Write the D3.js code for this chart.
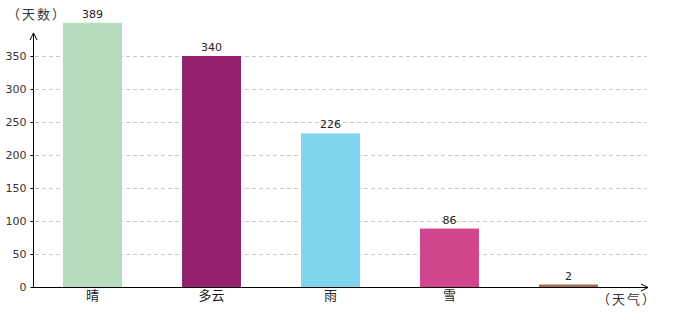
<!DOCTYPE html>
<html>
<head>
<meta charset="utf-8">
<script src="https://cdn.jsdelivr.net/npm/d3@7/dist/d3.min.js"></script>
<style>
  html, body { margin: 0; padding: 0; background: #fff; }
  text { font-family: "DejaVu Sans", "Noto Sans CJK SC", sans-serif; }
</style>
</head>
<body>
<div id="chart"></div>
<script>
// ── Data ───────────────────────────────────────────────────
const categories = ["晴", "多云", "雨", "雪", ""];
const values     = [389, 340, 226, 86, 2];
const colours    = ["#b6dcbe", "#94226c", "#7dd5ed", "#d2458f", "#a86a4f"];
const yTicks     = [0, 50, 100, 150, 200, 250, 300, 350];

const W = 680, H = 320;
const X0 = 33, Y0 = 287;        // axis origin
const XEND = 648, YTOP = 33;    // arrow tips
const SLOT = 119, BAR_W = 59, FIRST_BAR = 63;

const svg = d3.select("#chart").append("svg").attr("width", W).attr("height", H);

// axis scale (ticks) and bar scale (bars are stretched so the max reaches the top)
const y    = d3.scaleLinear().domain([0, 350]).range([Y0, 56]);
const yBar = d3.scaleLinear().domain([0, d3.max(values)]).range([Y0, 22.7]);
const x    = d3.scaleBand().domain(d3.range(values.length))
  .range([FIRST_BAR - (SLOT - BAR_W) / 2, FIRST_BAR - (SLOT - BAR_W) / 2 + SLOT * values.length])
  .paddingInner((SLOT - BAR_W) / SLOT).paddingOuter((SLOT - BAR_W) / SLOT / 2);

// Grid
svg.append("g")
  .selectAll("line").data(yTicks.slice(1)).join("line")
  .attr("x1", X0 + 2).attr("x2", XEND - 1)
  .attr("y1", d => Math.round(y(d)) + 0.5).attr("y2", d => Math.round(y(d)) + 0.5)
  .attr("stroke", "#c8c8c8").attr("stroke-dasharray", "4,3");

// Bars (min 2px so the tiny one still shows)
svg.append("g")
  .selectAll("rect").data(values).join("rect")
  .attr("x", (d, i) => x(i) + 0.5)
  .attr("width", x.bandwidth() - 1)
  .attr("y", d => Math.min(yBar(d), Y0 - 2.5) + 0.5)
  .attr("height", d => Y0 - Math.min(yBar(d), Y0 - 2.5) - 1)
  .attr("fill", (d, i) => colours[i])
  .attr("stroke", (d, i) => colours[i]).attr("stroke-width", 1);

// Value labels
svg.append("g")
  .selectAll("text").data(values).join("text")
  .attr("x", (d, i) => x(i) + x.bandwidth() / 2)
  .attr("y", d => Math.min(yBar(d), Y0 - 2.5) - 5)
  .attr("text-anchor", "middle").attr("font-size", 11).attr("fill", "#222")
  .text(d => d);

// Y axis
svg.append("g").attr("transform", `translate(${X0 + 0.5},0)`)
  .call(d3.axisLeft(y).tickValues(yTicks).tickSize(3).tickPadding(4))
  .call(ax => ax.select(".domain").remove())
  .call(ax => ax.selectAll("line").attr("stroke", "#000"))
  .call(ax => ax.selectAll("text").attr("fill", "#333").attr("font-size", 11)
    .attr("font-family", "DejaVu Sans, sans-serif"));

// X axis categories
svg.append("g").attr("transform", `translate(0,${Y0})`)
  .call(d3.axisBottom(x).tickFormat(i => categories[i]).tickSize(0).tickPadding(4))
  .call(ax => ax.select(".domain").remove())
  .call(ax => ax.selectAll("text").attr("fill", "#222").attr("font-size", 13)
    .attr("font-family", "Noto Sans CJK SC, sans-serif"));

// Axis lines with arrows
svg.append("line").attr("x1", X0 + 0.5).attr("x2", X0 + 0.5).attr("y1", Y0 + 1).attr("y2", YTOP)
  .attr("stroke", "#000").attr("stroke-width", 1);
svg.append("path").attr("d", `M${X0 - 3},${YTOP + 7} L${X0 + 0.5},${YTOP} L${X0 + 4},${YTOP + 7}`)
  .attr("fill", "none").attr("stroke", "#000");
svg.append("line").attr("x1", X0).attr("x2", XEND).attr("y1", Y0 + 0.5).attr("y2", Y0 + 0.5)
  .attr("stroke", "#000").attr("stroke-width", 1.2);
svg.append("path").attr("d", `M${XEND - 7},${Y0 - 3} L${XEND},${Y0 + 0.5} L${XEND - 7},${Y0 + 4}`)
  .attr("fill", "none").attr("stroke", "#000");

// Axis titles
svg.append("text").attr("x", 37).attr("y", 19).attr("text-anchor", "middle")
  .attr("font-size", 13).attr("fill", "#333").attr("letter-spacing", 2)
  .attr("font-family", "Noto Sans CJK SC, sans-serif")
  .text("（天数）");
svg.append("text").attr("x", 627).attr("y", 304).attr("text-anchor", "middle")
  .attr("font-size", 13).attr("fill", "#333").attr("letter-spacing", 2)
  .attr("font-family", "Noto Sans CJK SC, sans-serif")
  .text("（天气）");
</script>
</body>
</html>
